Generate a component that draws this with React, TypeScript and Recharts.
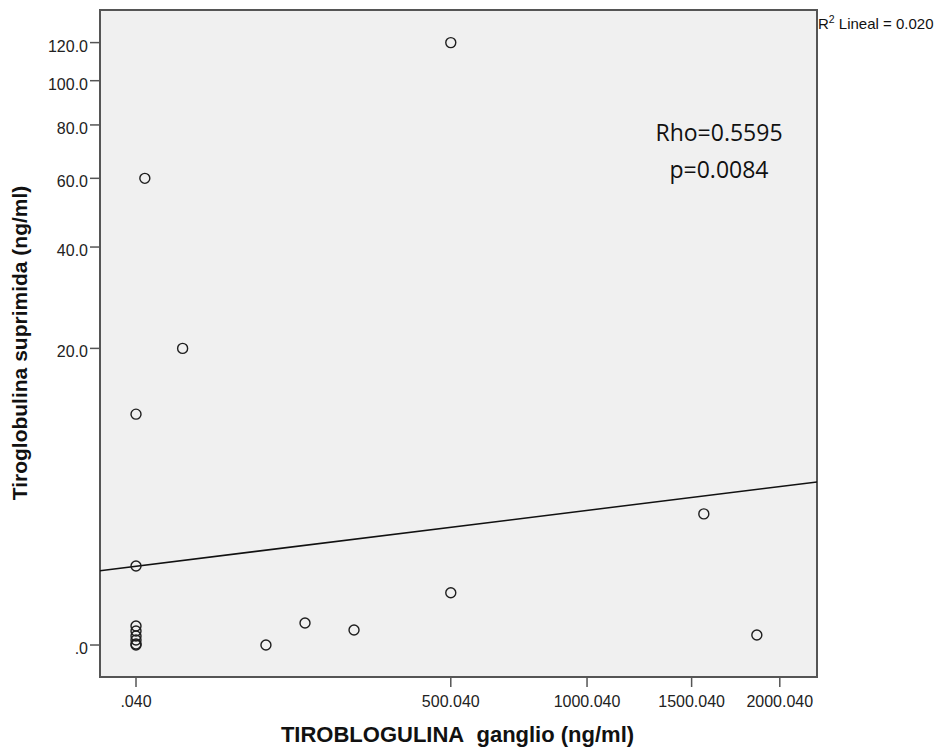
import { CartesianGrid, ReferenceArea, Scatter, ScatterChart, XAxis, YAxis } from "recharts";

// values (original units)
const tgGanglio = [500.04, 1.6, 16.4, 0.04, 0.04, 500.04, 1565, 1863, 95.6, 154.8, 249, 0.04, 0.04, 0.04, 0.04, 0.04, 0.04];
const tgSuprimida = [120, 60, 20, 11.7, 1.89, 1.08, 4.12, 0.163, 0, 0.384, 0.252, 0.326, 0.233, 0.146, 0.079, 0.015, 0];

const xTickValues = [0.04, 500.04, 1000.04, 1500.04, 2000.04];
const xTickLabels = [".040", "500.040", "1000.040", "1500.040", "2000.040"];
const yTickValues = [0, 20, 40, 60, 80, 100, 120];
const yTickLabels = [".0", "20.0", "40.0", "60.0", "80.0", "100.0", "120.0"];

// fit line in the transformed (axis) space: y = a + b * x
const fitCoef = [0.303, 0.007005];

// axis transforms (power scales as used by the original chart)
const tx = (v: number) => Math.sqrt(v - 0.04 + 1) - 1;
const ty = (v: number) => Math.pow(v + 1, 0.25) - 1;

const xDomain: [number, number] = [-2.446, 46.26];
const yDomain: [number, number] = [-0.123, 2.442];

const points = tgGanglio.map((x, i) => ({ x: tx(x), y: ty(tgSuprimida[i]) }));
const fitData = xDomain.map((x) => ({ x, y: fitCoef[0] + fitCoef[1] * x }));
const xTicks = xTickValues.map(tx);
const yTicks = yTickValues.map(ty);

const FONT = "'Liberation Sans', Arial, sans-serif";

const pick = (ticks: number[], labels: string[], v: number) => {
  let best = 0;
  ticks.forEach((t, i) => {
    if (Math.abs(t - v) < Math.abs(ticks[best] - v)) best = i;
  });
  return labels[best];
};

const YTick = ({ x, y, payload }: any) => (
  <text x={x} y={y + 9} textAnchor="end" fontSize={16} fill="#222" fontFamily={FONT}>
    {pick(yTicks, yTickLabels, payload.value)}
  </text>
);

const XTick = ({ x, y, payload }: any) => (
  <text x={x} y={y + 18} textAnchor="middle" fontSize={16} fill="#222" fontFamily={FONT}>
    {pick(xTicks, xTickLabels, payload.value)}
  </text>
);

const Dot = ({ cx, cy }: any) => (
  <circle cx={cx} cy={cy} r={5} fill="none" stroke="#1e1e1e" strokeWidth={1.4} />
);

export default function App() {
  return (
    <div style={{ position: "relative", width: 939, height: 741 }}>
      <ScatterChart width={939} height={741} margin={{ top: 2, right: 130, bottom: 32, left: 32 }}>
        <CartesianGrid fill="#f0f0f0" horizontal={false} vertical={false} />
        <XAxis
          type="number"
          dataKey="x"
          domain={xDomain}
          allowDataOverflow
          ticks={xTicks}
          interval={0}
          height={40}
          axisLine={false}
          tickSize={10}
          tickLine={{ stroke: "#555", strokeWidth: 1.5 }}
          tick={<XTick />}
        />
        <YAxis
          type="number"
          dataKey="y"
          domain={yDomain}
          allowDataOverflow
          ticks={yTicks}
          interval={0}
          width={60}
          axisLine={false}
          tickSize={10}
          tickLine={{ stroke: "#555", strokeWidth: 1.5 }}
          tick={<YTick />}
        />
        <ReferenceArea
          x1={xDomain[0]}
          x2={xDomain[1]}
          y1={yDomain[0]}
          y2={yDomain[1]}
          fill="none"
          fillOpacity={0}
          stroke="#555"
          strokeWidth={2}
        />
        <Scatter
          data={fitData}
          line={{ stroke: "#111", strokeWidth: 1.5 }}
          shape={() => <g />}
          isAnimationActive={false}
        />
        <Scatter data={points} shape={<Dot />} isAnimationActive={false} />
      </ScatterChart>
      <svg
        width={939}
        height={741}
        style={{ position: "absolute", left: 0, top: 0, pointerEvents: "none", overflow: "visible" }}
      >
        <text x={449.5} y={734} textAnchor="middle" fontSize={22} fontWeight="bold" fill="#111" fontFamily={FONT}>
          TIROBLOGULINA{"\u00a0\u00a0"}ganglio (ng/ml)
        </text>
        <text
          transform="translate(18.7, 335) rotate(-90)"
          textAnchor="middle"
          fontSize={21}
          fontWeight="bold"
          fill="#111"
          fontFamily={FONT}
        >
          Tiroglobulina suprimida (ng/ml)
        </text>
        <text x={711} y={133} textAnchor="middle" fontSize={23} fill="#111" fontFamily="'Open Sans', sans-serif">
          Rho=0.5595
        </text>
        <text x={711} y={170} textAnchor="middle" fontSize={23} fill="#111" fontFamily="'Open Sans', sans-serif">
          p=0.0084
        </text>
        <text x={810} y={21.3} fontSize={15} fill="#111" fontFamily={FONT}>
          R
          <tspan fontSize={10.5} dy={-6}>
            2
          </tspan>
          <tspan dy={6}> Lineal = 0.020</tspan>
        </text>
      </svg>
    </div>
  );
}
